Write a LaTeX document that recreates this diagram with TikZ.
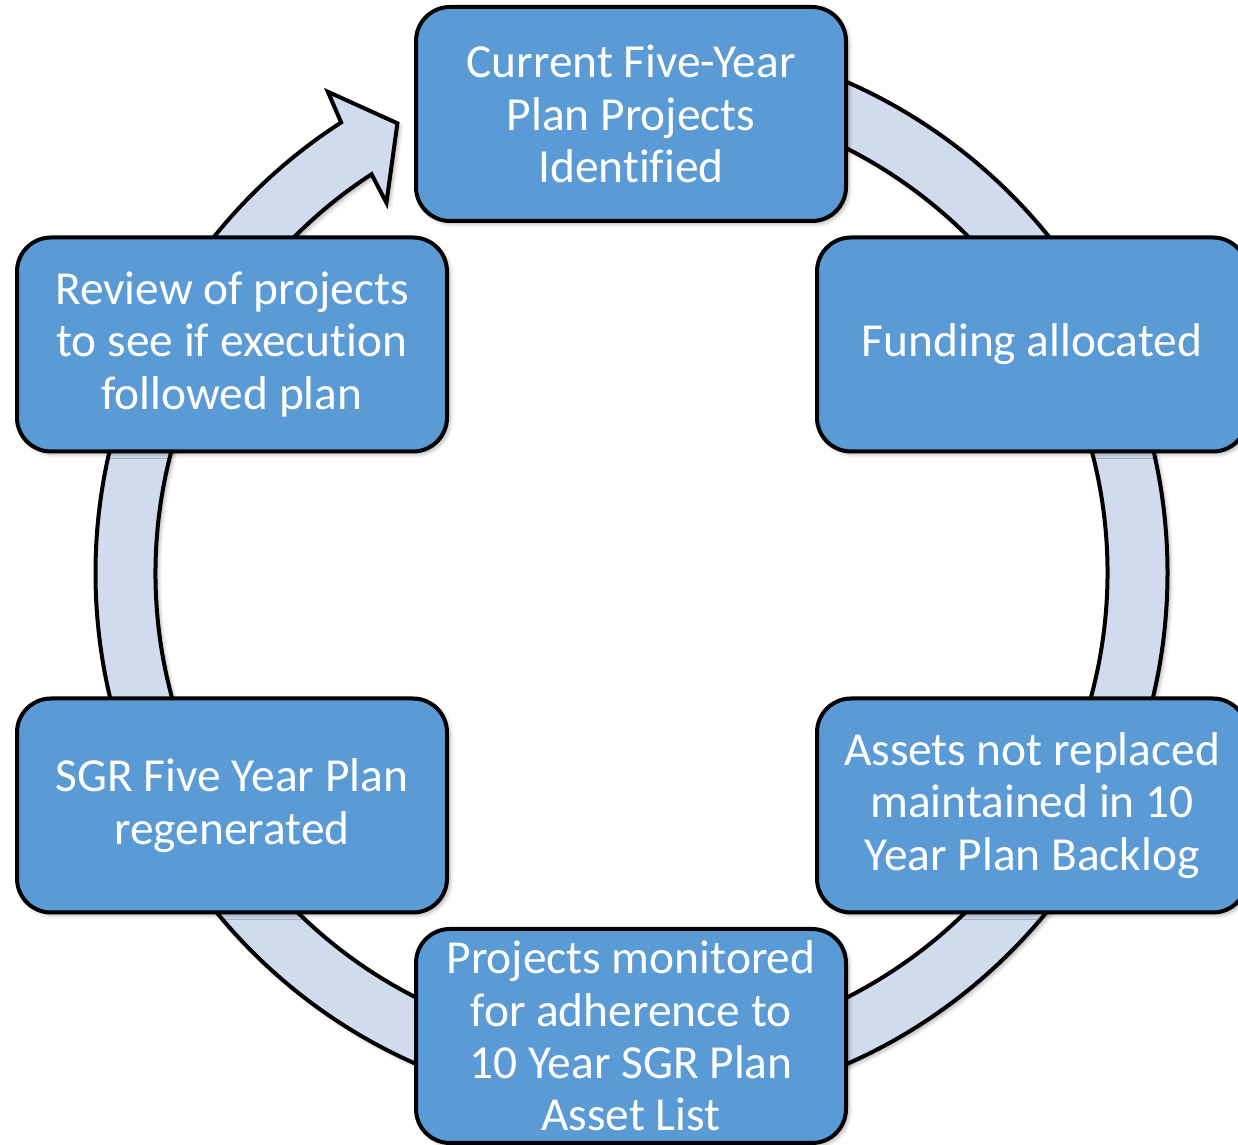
\documentclass[tikz,border=0pt]{standalone}
\usepackage{fontspec}
\setmainfont{Carlito}[Ligatures=CommonOff]
\usepackage{tikz}
\usetikzlibrary{shadows.blur}
\definecolor{StepBlue}{HTML}{5B9BD5}
\definecolor{RingFill}{HTML}{D0DBEE}

\tikzset{
  stagebox/.style={draw=black,line width=2pt,fill=StepBlue,rounded corners=17pt,
      minimum width=215pt,minimum height=107pt,inner sep=0pt,
      align=center,text=white,font=\fontsize{23.7}{26.2}\selectfont,
      blur shadow={shadow xshift=1.5pt,shadow yshift=-1.5pt,shadow opacity=30,shadow blur steps=6}}
}

\begin{document}
\begin{tikzpicture}[x=0.5pt,y=0.5pt]
\useasboundingbox (0,0) rectangle (1238,1145);
\coordinate (hub) at (631.5,572);

% ring arrow, runs clockwise and ends at the top box
\draw[shift={(hub)},draw=black,line width=2pt,fill=RingFill,line join=miter,
      blur shadow={shadow xshift=1.5pt,shadow yshift=-1.5pt,shadow opacity=30,shadow blur steps=6}]
  (90:536) arc[start angle=90,end angle=-237.2,radius=536]
  -- (-237.75:569) -- (-242.5:507) -- (-236.5:444) -- (-236.9:476)
  arc[start angle=-236.9,end angle=90,radius=476] -- cycle;

% the six stages
\node[stagebox] (plan)    at (631,1031)  {Current Five-Year\\Plan Projects\\Identified};
\node[stagebox] (funding) at (1032,800.5) {Funding allocated};
\node[stagebox] (backlog) at (1032,339.5) {Assets not replaced\\maintained in 10\\Year Plan Backlog};
\node[stagebox] (monitor) at (631,109)   {Projects monitored\\for adherence to\\10 Year SGR Plan\\Asset List};
\node[stagebox] (regen)   at (232,339.5) {SGR Five Year Plan\\regenerated};
\node[stagebox] (review)  at (232,800.5) {Review of projects\\to see if execution\\followed plan};
\end{tikzpicture}
\end{document}
